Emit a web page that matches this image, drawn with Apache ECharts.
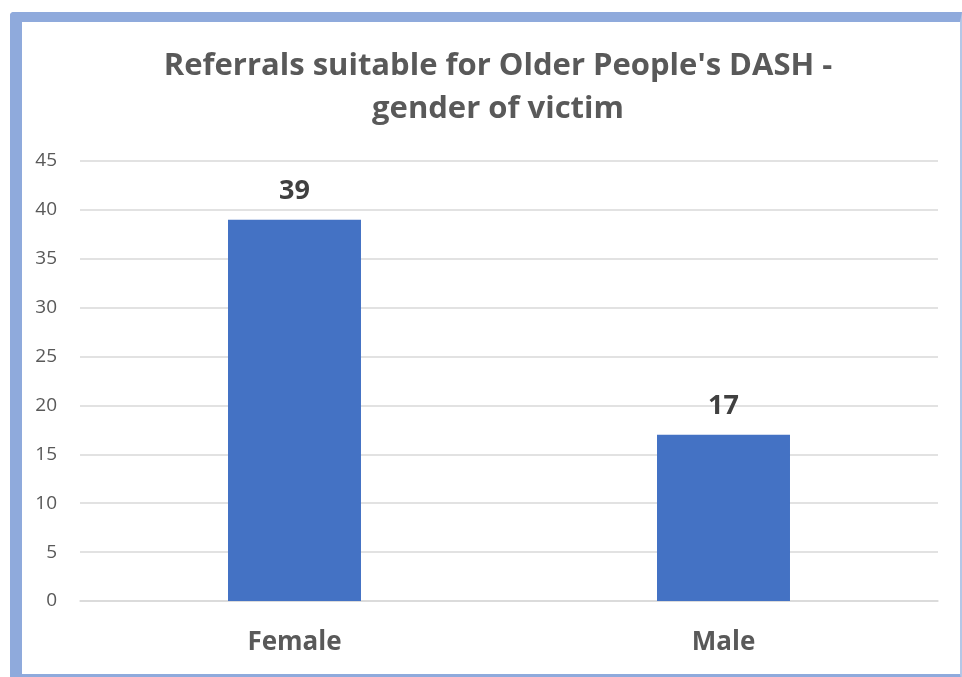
<!DOCTYPE html>
<html>
<head>
<meta charset="utf-8">
<script src="https://cdn.jsdelivr.net/npm/echarts@6/dist/echarts.min.js"></script>
<style>
  html, body { margin: 0; padding: 0; background: #fff; overflow: hidden; }
  #frame {
    position: absolute; left: 10px; top: 12px; width: 952px; height: 672px;
    border-left: 12px solid #8faadc; border-top: 10px solid #8faadc;
    border-bottom: 10px solid #8faadc; border-right: 2px solid #b4c7e7;
    border-top-left-radius: 4px; box-sizing: border-box;
  }
  #chart { position: absolute; left: 0; top: 0; width: 962px; height: 677px; }
</style>
</head>
<body>
<div id="frame"></div>
<div id="chart"></div>
<script>
  var categories = ['Female', 'Male']
  var values = [39, 17]

  let myChart = echarts.init(document.getElementById('chart'))
  myChart.setOption({
    animation: false,
    title: {
      text: "Referrals suitable for Older People's DASH -\ngender of victim",
      left: 493,
      top: 40,
      textAlign: 'center',
      textStyle: {
        fontFamily: 'Open Sans',
        fontSize: 31,
        fontWeight: 'bold',
        color: '#595959',
        lineHeight: 43
      }
    },
    grid: {
      left: 80,
      right: 24,
      top: 161,
      bottom: 76
    },
    xAxis: {
      type: 'category',
      data: categories,
      axisTick: { show: false },
      axisLine: { lineStyle: { color: '#d9d9d9', width: 1.5 } },
      axisLabel: {
        margin: 29,
        fontFamily: 'Open Sans',
        fontSize: 26,
        fontWeight: 'bold',
        color: '#595959'
      }
    },
    yAxis: {
      type: 'value',
      min: 0,
      max: 45,
      interval: 5,
      axisLine: { show: false },
      axisTick: { show: false },
      axisLabel: {
        margin: 23,
        fontFamily: 'Open Sans',
        fontSize: 19,
        color: '#595959'
      },
      splitLine: { lineStyle: { color: '#d9d9d9', width: 1.5 } }
    },
    series: [{
      type: 'bar',
      data: values,
      barWidth: '31%',
      itemStyle: { color: '#4472c4' },
      label: {
        show: true,
        position: 'top',
        distance: 15,
        fontFamily: 'Open Sans',
        fontSize: 27,
        fontWeight: 'bold',
        color: '#404040'
      }
    }]
  })
</script>
</body>
</html>
